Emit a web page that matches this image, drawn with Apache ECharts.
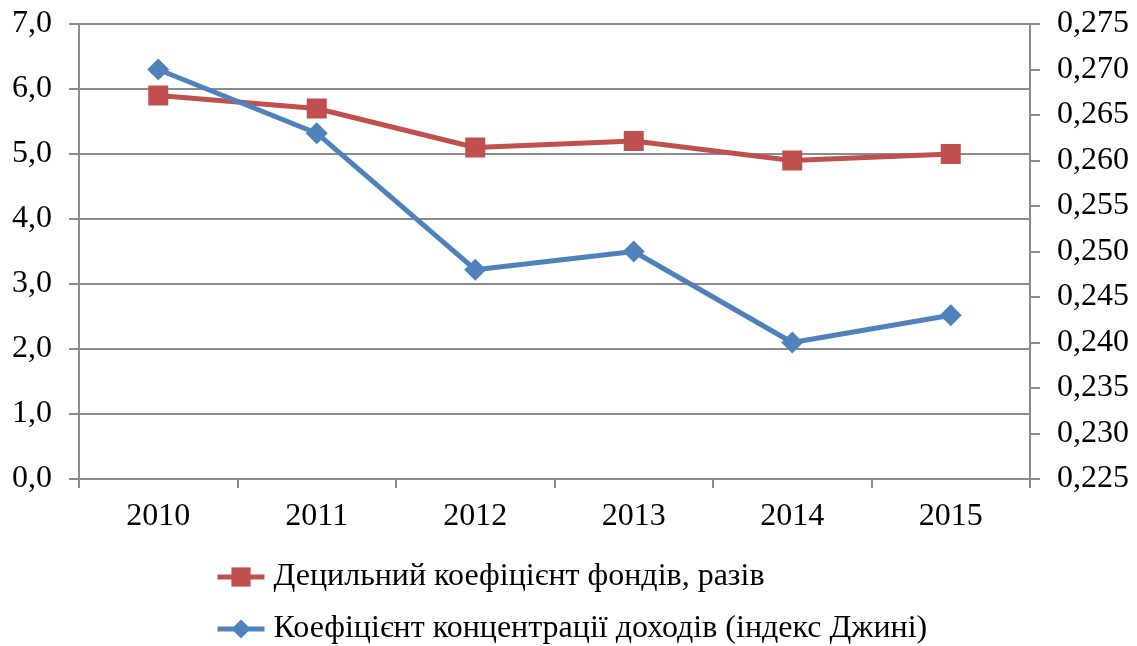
<!DOCTYPE html>
<html>
<head>
<meta charset="utf-8">
<script src="https://cdn.jsdelivr.net/npm/echarts@6/dist/echarts.min.js"></script>
<style>
  html, body { margin: 0; padding: 0; background: #fff; }
  #chart { width: 1137px; height: 646px; }
</style>
</head>
<body>
<div id="chart"></div>
<script>
// дані з графіка
const years = ['2010', '2011', '2012', '2013', '2014', '2015'];
const decileRatio = [5.9, 5.7, 5.1, 5.2, 4.9, 5.0];
const giniIndex = [0.270, 0.263, 0.248, 0.250, 0.240, 0.243];
const decileName = 'Децильний коефіцієнт фондів, разів';
const giniName = 'Коефіцієнт концентрації доходів (індекс Джині)';

const fontFamily = '"Liberation Serif", "DejaVu Serif", serif';
const axisGray = '#8c8c8c';
const red = '#C0504D';
const blue = '#4F81BD';

const chart = echarts.init(document.getElementById('chart'));

// спільні налаштування легенди
const legendBase = {
  orient: 'vertical',
  left: 215,
  itemWidth: 47,
  itemHeight: 24,
  itemGap: 0,
  padding: 0,
  textStyle: { fontFamily: fontFamily, fontSize: 32, color: '#000', padding: [0, 0, 0, 4] }
};

const options = {
  animation: false,
  textStyle: { fontFamily: fontFamily },
  grid: { left: 79, right: 107, top: 24, bottom: 167, containLabel: false },
  legend: [
    Object.assign({}, legendBase, {
      top: 561,
      data: [{ name: decileName, lineStyle: { width: 5 } }]
    }),
    Object.assign({}, legendBase, {
      top: 613,
      data: [{ name: giniName, lineStyle: { width: 5 } }]
    })
  ],
  xAxis: {
    type: 'category',
    data: years,
    boundaryGap: true,
    axisLine: { lineStyle: { color: axisGray, width: 2 } },
    axisTick: { show: true, length: 9, lineStyle: { color: axisGray, width: 2 } },
    axisLabel: { fontSize: 32, color: '#000', margin: 22 }
  },
  yAxis: [
    {
      type: 'value',
      min: 0,
      max: 7,
      interval: 1,
      axisLine: { show: true, lineStyle: { color: axisGray, width: 2 } },
      axisTick: { show: true, length: 10, lineStyle: { color: axisGray, width: 2 } },
      splitLine: { show: true, lineStyle: { color: axisGray, width: 2 } },
      axisLabel: {
        fontSize: 32, color: '#000', margin: 27,
        formatter: v => v.toFixed(1).replace('.', ',')
      }
    },
    {
      type: 'value',
      min: 0.225,
      max: 0.275,
      interval: 0.005,
      position: 'right',
      axisLine: { show: true, lineStyle: { color: axisGray, width: 2 } },
      axisTick: { show: true, length: 10, lineStyle: { color: axisGray, width: 2 } },
      splitLine: { show: false },
      axisLabel: {
        fontSize: 32, color: '#000', margin: 27,
        formatter: v => v.toFixed(3).replace('.', ',')
      }
    }
  ],
  series: [
    {
      name: decileName,
      type: 'line',
      yAxisIndex: 0,
      data: decileRatio,
      symbol: 'rect',
      symbolSize: 20,
      lineStyle: { color: red, width: 5 },
      itemStyle: { color: red }
    },
    {
      name: giniName,
      type: 'line',
      yAxisIndex: 1,
      data: giniIndex,
      symbol: 'diamond',
      symbolSize: 22,
      lineStyle: { color: blue, width: 5 },
      itemStyle: { color: blue }
    }
  ]
};

chart.setOption(options);
</script>
</body>
</html>
